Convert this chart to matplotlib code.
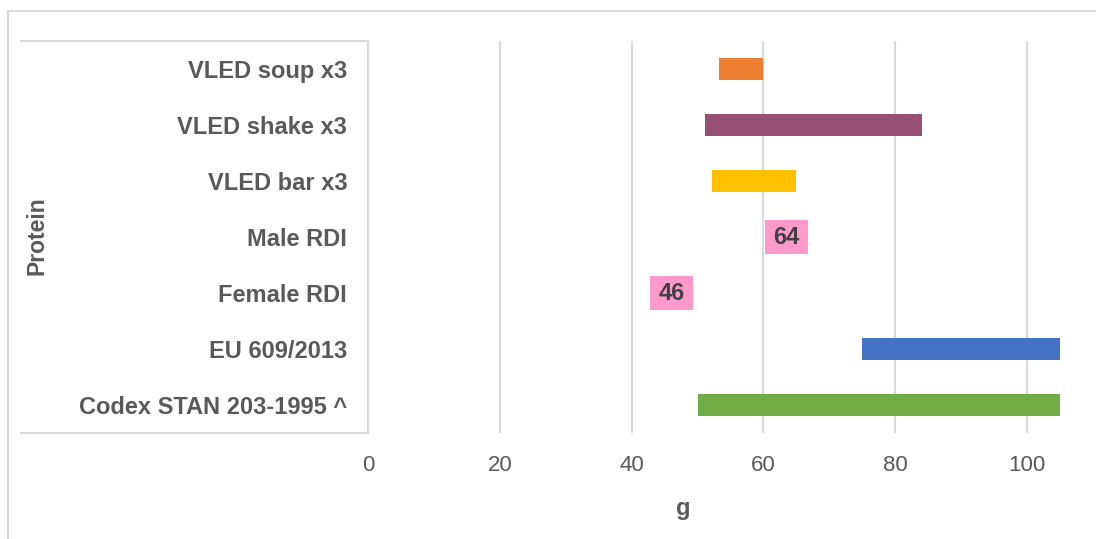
import matplotlib.pyplot as plt
from matplotlib.lines import Line2D

plt.rcParams['font.family'] = ['Liberation Sans', 'DejaVu Sans']

categories = ['VLED soup x3', 'VLED shake x3', 'VLED bar x3', 'Male RDI',
              'Female RDI', 'EU 609/2013', 'Codex STAN 203-1995 ^']
starts = [53.2, 51.1, 52.2, 60.2, 42.8, 74.9, 50.0]
ends = [60.0, 84.0, 64.9, 66.7, 49.3, 105.0, 105.0]
colors = ['#ED7D31', '#984F74', '#FFC000', '#FF99CC', '#FF99CC', '#4472C4', '#70AD47']
heights = [0.39, 0.39, 0.39, 0.6, 0.6, 0.39, 0.39]
bar_labels = ['', '', '', '64', '46', '', '']
xticks = [0, 20, 40, 60, 80, 100]

grey = '#595959'
line_c = '#D9D9D9'

fig = plt.figure(figsize=(10.96, 5.39), dpi=100)
W, H = 1096, 539
ax = fig.add_axes([368 / W, 1 - 433 / H, (1060 - 368) / W, (433 - 41) / H])

ypos = list(range(len(categories)))
for y, s, e, c, h, lab in zip(ypos, starts, ends, colors, heights, bar_labels):
    ax.barh(y, e - s, left=s, height=h, color=c, zorder=3)
    if lab:
        ax.text((s + e) / 2, y, lab, ha='center', va='center', fontsize=17,
                fontweight='bold', color='#404040', zorder=4)

ax.set_xlim(0, 105)
ax.set_ylim(len(categories) - 0.5, -0.5)
ax.set_xticks(xticks)
ax.set_xticklabels([str(t) for t in xticks], fontsize=16, color=grey)
ax.set_yticks(ypos)
ax.set_yticklabels(categories, fontsize=17, fontweight='bold', color=grey)
ax.tick_params(axis='x', length=0, pad=15.5)
ax.tick_params(axis='y', length=0, pad=15)
ax.grid(axis='x', color=line_c, linewidth=1.5, zorder=0)
for sp in ax.spines.values():
    sp.set_visible(False)

fig.text(683 / W, 1 - 508 / H, 'g', ha='center', va='center',
         fontsize=17, fontweight='bold', color=grey)


# category box (Excel multi-level axis look)
def fline(x0, y0, x1, y1, c=line_c, lw=1.5):
    fig.add_artist(Line2D([x0 / W, x1 / W], [1 - y0 / H, 1 - y1 / H],
                          color=c, linewidth=lw))


fline(21, 41, 368, 41)
fline(368, 41, 368, 433)
fline(21, 433, 368, 433)

# outer chart border
fline(8, 11, W, 11)
fline(8, 11, 8, H)

fig.text(37 / W, 1 - 236 / H, 'Protein', rotation=90, ha='center', va='center',
         fontsize=16.5, fontweight='bold', color=grey)

fig.savefig('out.png', dpi=100)
